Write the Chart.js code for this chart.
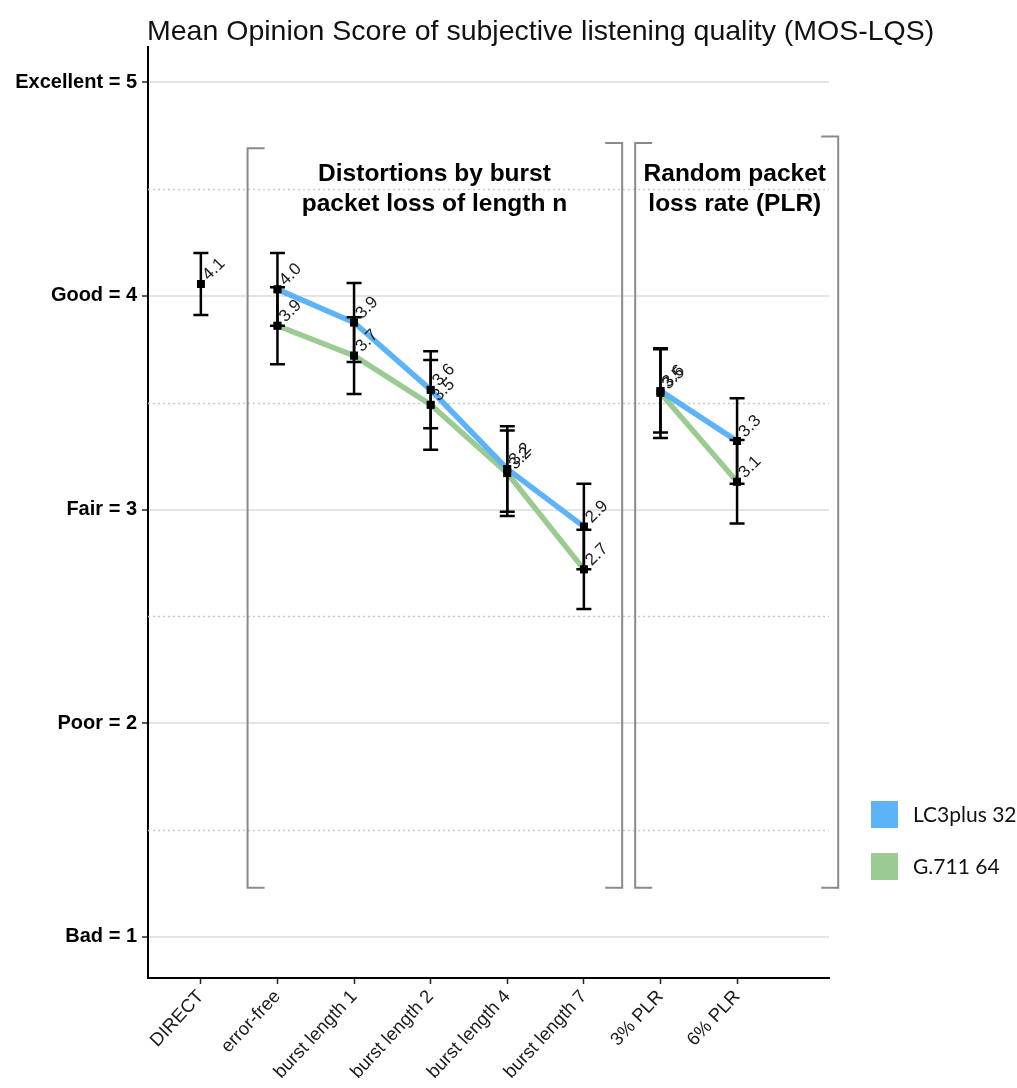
<!DOCTYPE html>
<html>
<head>
<meta charset="utf-8">
<title>MOS-LQS</title>
<script src="https://cdn.jsdelivr.net/npm/chart.js@4.4.1/dist/chart.umd.min.js"></script>
<style>
  html, body { margin: 0; padding: 0; background: #ffffff; }
  #wrap { position: relative; width: 1017px; height: 1088px; }
</style>
</head>
<body>
<div id="wrap"><canvas id="mos"></canvas></div>
<script>
// Test conditions along the x axis
const categories = ['DIRECT', 'error-free', 'burst length 1', 'burst length 2',
                    'burst length 4', 'burst length 7', '3% PLR', '6% PLR'];
// Condition groups: lines are only joined inside a group
const groups = ['ref', 'burst', 'burst', 'burst', 'burst', 'burst', 'plr', 'plr'];

// Rating scale labels (ACR 1..5)
const yTickValues = [1, 1.5, 2, 2.5, 3, 3.5, 4, 4.5, 5];
const yTickLabels = ['Bad = 1', 'Poor = 2', 'Fair = 3', 'Good = 4', 'Excellent = 5'];

// Mean scores and 95% confidence half-widths per condition
const directMos   = [4.055, null, null, null, null, null, null, null];
const directCi    = [0.145, null, null, null, null, null, null, null];
const lc3plusMos  = [null, 4.03, 3.875, 3.56, 3.19, 2.92, 3.555, 3.32];
const lc3plusCi   = [null, 0.17, 0.185, 0.18, 0.20, 0.20, 0.195, 0.20];
const g711Mos     = [null, 3.86, 3.72, 3.49, 3.17, 2.72, 3.545, 3.13];
const g711Ci      = [null, 0.18, 0.18, 0.21, 0.20, 0.185, 0.21, 0.195];

// Series names
const seriesNames = ['DIRECT', 'LC3plus 32', 'G.711 64'];

// Group headers with their brackets (in axis units)
const panelTitles = [
  ['Distortions by burst', 'packet loss of length n'],
  ['Random packet', 'loss rate (PLR)']
];
const panelSpans = [
  { left: 1.61, right: 6.50, leftTop: 4.69, rightTop: 4.715, bottom: 1.23, textX: 4.05, textY: 4.537 },
  { left: 6.67, right: 9.32, leftTop: 4.715, rightTop: 4.745, bottom: 1.23, textX: 7.97, textY: 4.537 }
];

const chartTitle = 'Mean Opinion Score of subjective listening quality (MOS-LQS)';

const BLUE = '#5cb3f8';
const GREEN = '#9bcb92';

function toPoints(values) {
  const pts = [];
  values.forEach((v, i) => { if (v !== null) pts.push({ x: i + 1, y: v }); });
  return pts;
}

// Hide the connecting segment when two points belong to different groups
const groupBreak = ctx =>
  groups[ctx.p0.parsed.x - 1] !== groups[ctx.p1.parsed.x - 1] ? 'rgba(0,0,0,0)' : undefined;

const overlay = {
  id: 'overlay',
  beforeDatasetsDraw(chart) {
    const { ctx, chartArea: a, scales: { x, y } } = chart;
    ctx.save();
    // dotted half-step lines
    ctx.strokeStyle = '#c9c9c9';
    ctx.lineWidth = 1.5;
    ctx.setLineDash([2, 3]);
    y.ticks.forEach(t => {
      if (!Number.isInteger(t.value)) {
        const py = Math.round(y.getPixelForValue(t.value)) + 0.5;
        ctx.beginPath(); ctx.moveTo(a.left, py); ctx.lineTo(a.right, py); ctx.stroke();
      }
    });
    ctx.setLineDash([]);
    // group brackets
    ctx.strokeStyle = '#8a8a8a';
    ctx.lineWidth = 2;
    const arm = 17;
    panelSpans.forEach((p, k) => {
      const xl = x.getPixelForValue(p.left), xr = x.getPixelForValue(p.right);
      const yb = y.getPixelForValue(p.bottom);
      const ylt = y.getPixelForValue(p.leftTop), yrt = y.getPixelForValue(p.rightTop);
      ctx.beginPath();
      ctx.moveTo(xl + arm, ylt); ctx.lineTo(xl, ylt); ctx.lineTo(xl, yb); ctx.lineTo(xl + arm, yb);
      ctx.moveTo(xr - arm, yrt); ctx.lineTo(xr, yrt); ctx.lineTo(xr, yb); ctx.lineTo(xr - arm, yb);
      ctx.stroke();
      ctx.fillStyle = '#000';
      ctx.font = 'bold 24.5px "Liberation Sans", Arial, sans-serif';
      ctx.textAlign = 'center';
      ctx.textBaseline = 'alphabetic';
      const tx = x.getPixelForValue(p.textX), ty = y.getPixelForValue(p.textY);
      panelTitles[k].forEach((line, n) => ctx.fillText(line, tx, ty + n * 30));
    });
    ctx.restore();
  },
  afterDatasetsDraw(chart) {
    const { ctx, scales: { y } } = chart;
    ctx.save();
    chart.data.datasets.forEach((ds, di) => {
      const meta = chart.getDatasetMeta(di);
      // confidence interval whiskers
      ctx.strokeStyle = '#000';
      ctx.lineWidth = 2.5;
      meta.data.forEach((pt, j) => {
        const raw = ds.data[j];
        const ci = ds.ci[raw.x - 1];
        const yt = y.getPixelForValue(raw.y + ci), yb = y.getPixelForValue(raw.y - ci);
        ctx.beginPath();
        ctx.moveTo(pt.x, yt); ctx.lineTo(pt.x, yb);
        ctx.moveTo(pt.x - 7.5, yt); ctx.lineTo(pt.x + 7.5, yt);
        ctx.moveTo(pt.x - 7.5, yb); ctx.lineTo(pt.x + 7.5, yb);
        ctx.stroke();
      });
    });
    // markers on top of lines and whiskers
    chart.data.datasets.forEach((ds, di) => {
      chart.getDatasetMeta(di).data.forEach(pt => pt.draw(ctx, chart.chartArea));
    });
    // value labels
    ctx.fillStyle = '#1a1a1a';
    ctx.font = '17px "Liberation Sans", Arial, sans-serif';
    ctx.textAlign = 'left';
    ctx.textBaseline = 'alphabetic';
    chart.data.datasets.forEach((ds, di) => {
      chart.getDatasetMeta(di).data.forEach((pt, j) => {
        ctx.save();
        ctx.translate(pt.x + 8, pt.y - 3);
        ctx.rotate(-Math.PI / 4);
        ctx.fillText(ds.data[j].y.toFixed(1), 0, 0);
        ctx.restore();
      });
    });
    ctx.restore();
  },
  afterDraw(chart) {
    const { ctx } = chart;
    ctx.save();
    // title
    ctx.fillStyle = '#111';
    ctx.font = '28.5px "Liberation Sans", Arial, sans-serif';
    ctx.textAlign = 'left';
    ctx.textBaseline = 'alphabetic';
    ctx.fillText(chartTitle, 147, 40);
    // legend
    ctx.font = '21px Lato, "Open Sans", sans-serif';
    ctx.textBaseline = 'middle';
    [1, 2].forEach((di, k) => {
      const ds = chart.data.datasets[di];
      const top = 801 + k * 52;
      ctx.fillStyle = ds.borderColor;
      ctx.fillRect(871, top, 27, 27);
      ctx.fillStyle = '#111';
      ctx.fillText(ds.label, 913, top + 14);
    });
    ctx.restore();
  }
};

const pointStyle = {
  pointStyle: 'rect',
  pointRadius: 5.5,
  pointHoverRadius: 5.5,
  pointBackgroundColor: '#000',
  pointBorderColor: '#000',
  pointBorderWidth: 0
};

new Chart(document.getElementById('mos'), {
  type: 'line',
  data: {
    datasets: [
      { label: seriesNames[0], data: toPoints(directMos), ci: directCi, showLine: false,
        borderColor: '#000', ...pointStyle },
      { label: seriesNames[1], data: toPoints(lc3plusMos), ci: lc3plusCi, borderColor: BLUE,
        borderWidth: 5.5, segment: { borderColor: groupBreak }, ...pointStyle },
      { label: seriesNames[2], data: toPoints(g711Mos), ci: g711Ci, borderColor: GREEN,
        borderWidth: 5.5, segment: { borderColor: groupBreak }, ...pointStyle }
    ]
  },
  options: {
    responsive: true,
    maintainAspectRatio: false,
    animation: false,
    events: [],
    layout: { padding: { top: 47, right: 188, left: 0, bottom: 0 } },
    plugins: { legend: { display: false }, title: { display: false }, tooltip: { enabled: false } },
    scales: {
      x: {
        type: 'linear',
        min: 0.31,
        max: 9.2,
        afterBuildTicks: s => { s.ticks = categories.map((c, i) => ({ value: i + 1 })); },
        afterFit: s => { s.height = 110; },
        ticks: {
          autoSkip: false,
          minRotation: 47,
          maxRotation: 47,
          padding: 2,
          color: '#1a1a1a',
          font: { family: '"Liberation Sans", Arial, sans-serif', size: 18.5 },
          callback: v => categories[v - 1] ?? ''
        },
        grid: { drawOnChartArea: false, drawTicks: true, tickLength: 6, tickColor: '#222', tickWidth: 1.5 },
        border: { color: '#000', width: 2 }
      },
      y: {
        type: 'linear',
        min: 0.808,
        max: 5.164,
        afterBuildTicks: s => { s.ticks = yTickValues.map(v => ({ value: v })); },
        afterFit: s => { s.width = 148; },
        ticks: {
          padding: 5,
          color: '#000',
          font: { family: '"Liberation Sans", Arial, sans-serif', size: 20, weight: 'bold' },
          callback: v => Number.isInteger(v) ? yTickLabels[v - 1] : ''
        },
        grid: {
          color: c => Number.isInteger(c.tick && c.tick.value) ? '#e4e4e4' : 'rgba(0,0,0,0)',
          lineWidth: 2,
          drawTicks: true,
          tickLength: 6,
          tickWidth: 1.5,
          tickColor: c => Number.isInteger(c.tick && c.tick.value) ? '#222' : 'rgba(0,0,0,0)'
        },
        border: { color: '#000', width: 2 }
      }
    }
  },
  plugins: [overlay]
});
</script>
</body>
</html>
